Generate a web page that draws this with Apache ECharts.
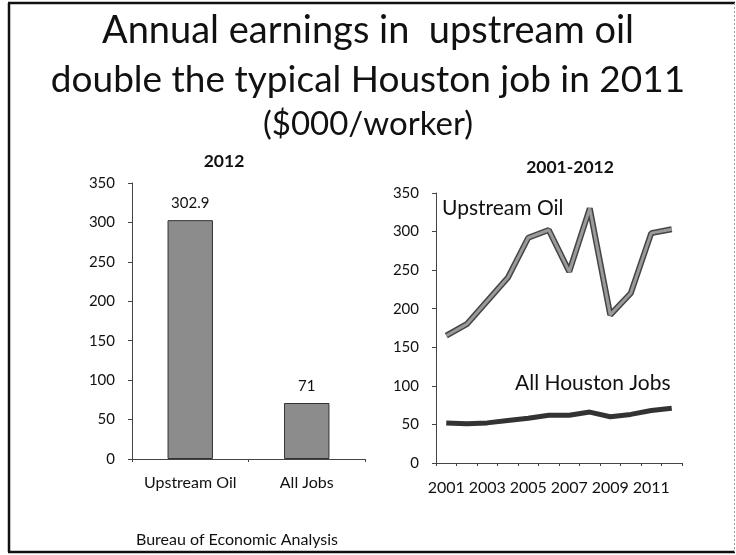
<!DOCTYPE html>
<html>
<head>
<meta charset="utf-8">
<script src="https://cdn.jsdelivr.net/npm/echarts@6/dist/echarts.min.js"></script>
<style>
html,body{margin:0;padding:0;background:#fff;}
#main{width:736px;height:555px;}
</style>
</head>
<body>
<div id="main"></div>
<script>
// bar chart, 2012
var barCats = ['Upstream Oil', 'All Jobs'];
var barVals = [302.9, 71];
// line chart, 2001-2012
var years = ['2001','2002','2003','2004','2005','2006','2007','2008','2009','2010','2011','2012'];
var upstreamOil = [165, 180, 210, 240, 292, 302, 248, 330, 192, 220, 298, 303];
var allHouston = [52, 51, 52, 55, 58, 62, 62, 66, 60, 63, 68, 71];
var yTicks = [0, 50, 100, 150, 200, 250, 300, 350];

var font = 'Lato';
var myChart = echarts.init(document.getElementById('main'));

function yAxisOpt(idx){
    return {
        gridIndex: idx,
        type: 'value',
        min: yTicks[0],
        max: yTicks[yTicks.length-1],
        interval: 50,
        axisLine: {show: true, lineStyle: {color: '#444', width: 1}},
        axisTick: {show: true, length: 4, lineStyle: {color: '#444'}},
        splitLine: {show: false},
        axisLabel: {color: '#111', fontFamily: font, fontSize: 15, margin: 17}
    };
}

function txt(s, size, weight){
    return {fontFamily: font, fontSize: size, fontWeight: weight || 'normal', color: '#111'};
}

var option = {
    backgroundColor: '#fff',
    animation: false,
    title: [
        {text: 'Annual earnings in  upstream oil', left: 'center', top: 7, textStyle: txt('', 38)},
        {text: 'double the typical Houston job in 2011', left: 'center', top: 57, textStyle: txt('', 37)},
        {text: '($000/worker)', left: 'center', top: 103, textStyle: txt('', 33)},
        {text: '2012', left: 219, top: 147, textAlign: 'center', textStyle: txt('', 17.5, 'bold')},
        {text: '2001-2012', left: 565, top: 153, textAlign: 'center', textStyle: txt('', 17.5, 'bold')},
        {text: 'Bureau of Economic Analysis', left: 232, top: 527, textAlign: 'center', textStyle: txt('', 16)}
    ],
    grid: [
        {left: 132, top: 183, width: 233, height: 276},
        {left: 436, top: 193, width: 246, height: 270}
    ],
    xAxis: [
        {gridIndex: 0, type: 'category', data: barCats,
         axisLine: {lineStyle: {color: '#444', width: 1}},
         axisTick: {show: true, length: 3, lineStyle: {color: '#444'}},
         axisLabel: {color: '#111', fontFamily: font, fontSize: 16, margin: 16, interval: 0}},
        {gridIndex: 1, type: 'category', data: years,
         axisLine: {lineStyle: {color: '#444', width: 1}},
         axisTick: {show: true, length: 3, interval: 0, lineStyle: {color: '#444'}},
         axisLabel: {color: '#111', fontFamily: font, fontSize: 16, margin: 17, interval: 1}}
    ],
    yAxis: [yAxisOpt(0), yAxisOpt(1)],
    series: [
        {type: 'bar', xAxisIndex: 0, yAxisIndex: 0, data: barVals, barWidth: '39%',
         itemStyle: {color: '#8c8c8c', borderColor: '#333', borderWidth: 1},
         label: {show: true, position: 'top', distance: 9, color: '#111', fontFamily: font, fontSize: 15}},
        {type: 'line', xAxisIndex: 1, yAxisIndex: 1, data: upstreamOil, symbol: 'none',
         lineStyle: {color: '#444', width: 6}, z: 2},
        {type: 'line', xAxisIndex: 1, yAxisIndex: 1, data: upstreamOil, symbol: 'none',
         lineStyle: {color: '#9a9a9a', width: 3}, z: 3},
        {type: 'line', xAxisIndex: 1, yAxisIndex: 1, data: allHouston, symbol: 'none',
         lineStyle: {color: '#333', width: 5}, z: 2}
    ],
    graphic: [
        {type: 'line', z: 100, silent: true, shape: {x1: 9, y1: 3, x2: 9, y2: 552},
         style: {stroke: '#111', lineWidth: 2.5}},
        {type: 'line', z: 100, silent: true, shape: {x1: 8, y1: 3, x2: 735, y2: 3},
         style: {stroke: '#111', lineWidth: 2.5}},
        {type: 'line', z: 100, silent: true, shape: {x1: 8, y1: 552, x2: 735, y2: 552},
         style: {stroke: '#111', lineWidth: 2.5}},
        {type: 'line', z: 100, silent: true, shape: {x1: 734.5, y1: 3, x2: 734.5, y2: 552},
         style: {stroke: '#999', lineWidth: 1, lineDash: [2, 2]}},
        {type: 'text', left: 442, top: 198,
         style: {text: 'Upstream Oil', fontFamily: font, fontSize: 21, fill: '#111'}},
        {type: 'text', left: 515, top: 373,
         style: {text: 'All Houston Jobs', fontFamily: font, fontSize: 21, fill: '#111'}}
    ]
};
myChart.setOption(option);
</script>
</body>
</html>
